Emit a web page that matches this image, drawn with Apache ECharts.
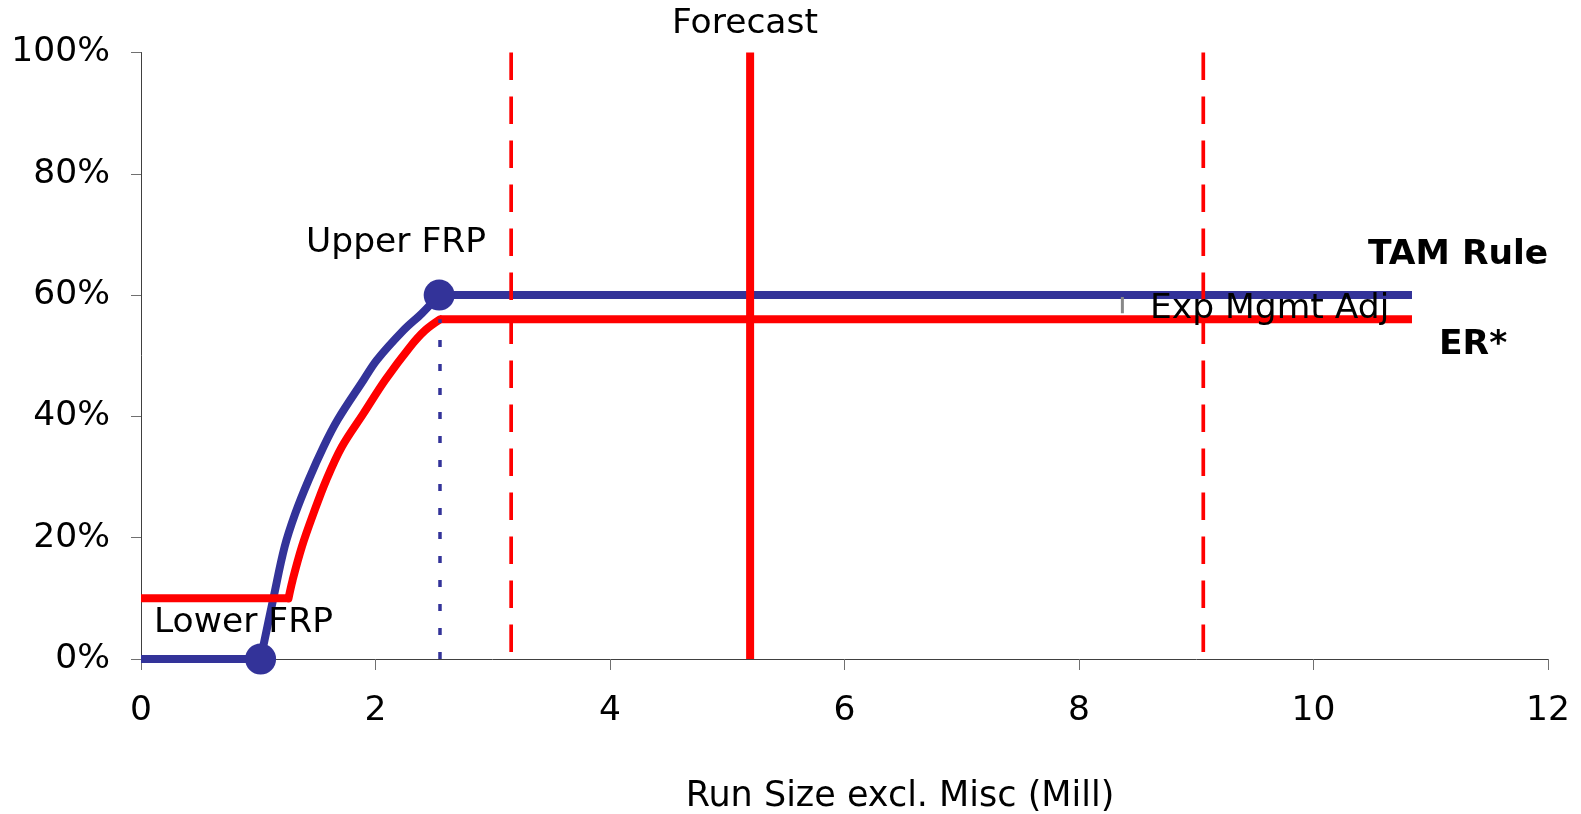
<!DOCTYPE html>
<html>
<head>
<meta charset="utf-8">
<script src="https://cdn.jsdelivr.net/npm/echarts@6/dist/echarts.min.js"></script>
<style>html,body{margin:0;padding:0;background:#fff;}#c{width:1581px;height:814px;}</style>
</head>
<body>
<div id="c"></div>
<script>
// ---- data ----
var xTicks = [0, 2, 4, 6, 8, 10, 12];
var yTicks = [0, 20, 40, 60, 80, 100];
// TAM Rule: flat start, rising curve, flat plateau
var tamRuleLow = [[0,0],[1.02,0]];
var tamRuleCurve = [[1.02,0],[1.131,10.2],[1.225,18.5],[1.316,24.0],[1.429,29.5],[1.557,35.0],[1.676,39.4],[1.898,46.0],[2.012,49.3],[2.239,54.2],[2.396,57.0],[2.543,60]];
var tamRuleHigh = [[2.543,60],[10.84,60]];
// ER*: flat start, rising curve, flat plateau
var erStarLow = [[0,10],[1.258,10]];
var erStarCurve = [[1.258,10],[1.293,13.0],[1.372,18.5],[1.471,24.0],[1.580,29.5],[1.713,35.0],[1.898,40.5],[2.083,46.0],[2.296,51.5],[2.424,54.2],[2.55,56]];
var erStarHigh = [[2.55,56],[10.84,56]];
var frpPoints = [[1.02,0],[2.543,60]];
var upperFrpDrop = [[2.55,0],[2.55,56]];
var forecastX = 5.195;
var rangeLowX = 3.157;
var rangeHighX = 9.06;
var expMgmtAdj = [[8.37,57],[8.37,59.7]];

var BLUE = '#333399', RED = '#ff0000';
var FONT = 'DejaVu Sans, Verdana, sans-serif';
var FS = 34.5;

function seg(name, data, color, smooth) {
  return {name: name, type: 'line', data: data, showSymbol: false, symbol: 'none', z: 2,
    smooth: smooth ? 0.35 : false,
    lineStyle: {color: color, width: 8, join: 'round', cap: smooth ? 'round' : 'butt'}};
}

var chart = echarts.init(document.getElementById('c'));
chart.setOption({
  animation: false,
  backgroundColor: '#fff',
  grid: {left: 141, right: 33, top: 52.5, bottom: 155, containLabel: false},
  xAxis: {
    type: 'value', min: 0, max: 12, interval: 2,
    splitLine: {show: false},
    axisLine: {onZero: false, lineStyle: {color: '#404040', width: 1}},
    axisTick: {show: true, length: 11, lineStyle: {color: '#707070'}},
    axisLabel: {margin: 35, fontSize: FS, color: '#000', fontFamily: FONT,
      formatter: function(v){ return xTicks.indexOf(v) >= 0 ? String(v) : ''; }}
  },
  yAxis: {
    type: 'value', min: 0, max: 100, interval: 20,
    splitLine: {show: false},
    axisLine: {show: true, lineStyle: {color: '#404040', width: 1}},
    axisTick: {show: true, length: 10, lineStyle: {color: '#707070'}},
    axisLabel: {margin: 31, fontSize: FS, color: '#000', fontFamily: FONT,
      formatter: function(v){ return yTicks.indexOf(v) >= 0 ? v + '%' : ''; }}
  },
  series: [
    seg('TAM Rule', tamRuleLow, BLUE, false),
    seg('TAM Rule', tamRuleCurve, BLUE, true),
    seg('TAM Rule', tamRuleHigh, BLUE, false),
    seg('ER*', erStarLow, RED, false),
    seg('ER*', erStarCurve, RED, true),
    seg('ER*', erStarHigh, RED, false),
    {name: 'Upper FRP drop', type: 'line', data: upperFrpDrop, symbol: 'none', z: 3,
      lineStyle: {color: BLUE, width: 3.5, type: [7, 17]}},
    {name: 'Exp Mgmt Adj', type: 'line', data: expMgmtAdj, symbol: 'none', z: 3,
      lineStyle: {color: '#888888', width: 3}},
    {name: 'Range low', type: 'line', data: [[rangeLowX,100],[rangeLowX,0]], symbol: 'none', z: 4,
      lineStyle: {color: RED, width: 3.7, type: [27.5, 16.5]}},
    {name: 'Range high', type: 'line', data: [[rangeHighX,100],[rangeHighX,0]], symbol: 'none', z: 4,
      lineStyle: {color: RED, width: 3.7, type: [27.5, 16.5]}},
    {name: 'Forecast', type: 'line', data: [[forecastX,0],[forecastX,100]], symbol: 'none', z: 4,
      lineStyle: {color: RED, width: 8}},
    {name: 'FRP', type: 'scatter', data: frpPoints, symbol: 'circle', symbolSize: 31, z: 5,
      itemStyle: {color: BLUE, opacity: 1}}
  ],
  graphic: [
    {type: 'text', x: 745, y: 24, z: 100, style: {text: 'Forecast', font: FS + 'px ' + FONT, fill: '#000', textAlign: 'center', textVerticalAlign: 'middle'}},
    {type: 'text', x: 306, y: 243.5, z: 100, style: {text: 'Upper FRP', font: FS + 'px ' + FONT, fill: '#000', textAlign: 'left', textVerticalAlign: 'middle'}},
    {type: 'text', x: 154, y: 623.5, z: 100, style: {text: 'Lower FRP', font: FS + 'px ' + FONT, fill: '#000', textAlign: 'left', textVerticalAlign: 'middle'}},
    {type: 'text', x: 1368, y: 255.5, z: 100, style: {text: 'TAM Rule', font: 'bold ' + FS + 'px ' + FONT, fill: '#000', textAlign: 'left', textVerticalAlign: 'middle'}},
    {type: 'text', x: 1439, y: 345.5, z: 100, style: {text: 'ER*', font: 'bold ' + FS + 'px ' + FONT, fill: '#000', textAlign: 'left', textVerticalAlign: 'middle'}},
    {type: 'text', x: 1150, y: 309.5, z: 100, style: {text: 'Exp Mgmt Adj', font: FS + 'px ' + FONT, fill: '#000', textAlign: 'left', textVerticalAlign: 'middle'}},
    {type: 'text', x: 900, y: 797, z: 100, style: {text: 'Run Size excl. Misc (Mill)', font: '35px ' + FONT, fill: '#000', textAlign: 'center', textVerticalAlign: 'middle'}}
  ]
});
</script>
</body>
</html>
